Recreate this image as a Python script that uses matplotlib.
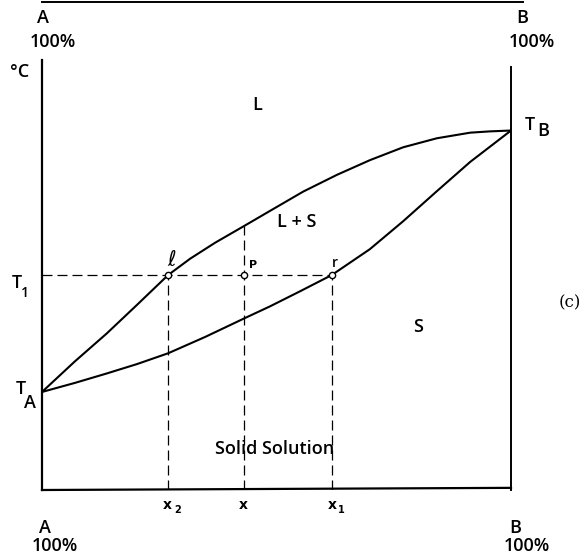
import matplotlib.pyplot as plt
from matplotlib.lines import Line2D

# composition in % B, temperature in arbitrary units (0 = bottom axis)
liq_x = [0, 7.0, 13.8, 20.3, 26.9, 31.6, 36.9, 43.1, 48.6, 55.7, 62.9,
         69.9, 77.0, 84.2, 91.3, 95.5, 100]
liq_t = [22.8, 29.9, 36.4, 43.1, 50.0, 53.8, 57.5, 61.4, 64.9, 69.4, 73.3,
         76.7, 79.7, 81.8, 83.1, 83.4, 83.6]
sol_x = [0, 7.0, 13.8, 20.3, 26.9, 34.8, 43.1, 48.6, 55.0, 61.8, 69.9,
         77.0, 84.2, 91.3, 100]
sol_t = [22.8, 24.9, 27.1, 29.3, 31.8, 35.6, 39.9, 42.7, 46.2, 50.0, 56.0,
         62.5, 69.5, 76.3, 83.6]

T_1 = 50.0
x2, x0, x1 = 26.9, 43.1, 61.8   # compositions of l, P, r
x_top = 61.5                    # top of the dashed line through P

fig = plt.figure(figsize=(5.87, 5.55), dpi=100)
ax = fig.add_axes([42 / 587, 65 / 555, 469 / 587, 430 / 555])
ax.set_xlim(0, 100)
ax.set_ylim(0, 100)
ax.axis('off')

# frame of the diagram
ax.plot([0, 0], [0, 100], color='black', lw=1.6, clip_on=False)
ax.plot([100, 100], [0, 98.4], color='black', lw=1.4, clip_on=False)
ax.plot([0, 100], [0, 0.5], color='black', lw=1.6, clip_on=False)

# liquidus and solidus
ax.plot(liq_x, liq_t, color='black', lw=1.5)
ax.plot(sol_x, sol_t, color='black', lw=1.5)

# construction lines
dash = dict(color='black', lw=0.9, dashes=(8, 4))
ax.plot([0, x1], [T_1, T_1], **dash)
ax.plot([x2, x2], [0, T_1], **dash)
ax.plot([x0, x0], [0, x_top], **dash)
ax.plot([x1, x1], [0, T_1], **dash)
ax.plot([x2, x0, x1], [T_1, T_1, T_1], 'o', ms=4.5, mfc='white',
        mec='black', mew=1.0)

# labels
txt = dict(fontsize=13, ha='center', va='center', clip_on=False,
           family='Open Sans', fontweight='semibold')
ax.text(0.15, 109.8, 'A', **txt)
ax.text(2.3, 104.2, '100%', **txt)
ax.text(102.3, 109.8, 'B', **txt)
ax.text(104.4, 104.2, '100%', **txt)
ax.text(-4.7, 97.2, '°C', **txt)
ax.text(45.8, 89.5, 'L', **txt)
ax.text(54.4, 62.3, 'L + S', **txt)
ax.text(80.2, 37.9, 'S', **txt)
ax.text(49.5, 9.5, 'Solid Solution', **txt)
ax.text(0.6, -8.8, 'A', **txt)
ax.text(2.8, -13.0, '100%', **txt)
ax.text(100.9, -8.8, 'B', **txt)
ax.text(103.4, -13.0, '100%', **txt)

ax.text(104.0, 85.0, 'T', **txt)
ax.text(106.8, 83.5, 'B', **txt)
ax.text(-4.5, 23.5, 'T', **txt)
ax.text(-2.5, 20.3, 'A', **txt)
ax.text(-5.3, 48.1, 'T', **txt)
ax.text(-3.7, 45.8, '1', fontsize=10, ha='center', va='center',
        clip_on=False, family='Open Sans', fontweight='semibold')

ax.text(27.7, 53.5, r'$\ell$', fontsize=15, ha='center', va='center')
ax.text(45.0, 52.3, 'P', fontsize=8, ha='center', va='center',
        fontweight='bold')
ax.text(62.5, 52.8, 'r', fontsize=10, ha='center', va='center',
        family='Open Sans', fontweight='semibold')

small = dict(fontsize=10, ha='center', va='center', clip_on=False,
             fontweight='bold')
ax.text(26.7, -3.4, 'x', **small)
ax.text(29.0, -4.6, '2', fontsize=7, ha='center', va='center',
        clip_on=False, fontweight='bold')
ax.text(42.9, -3.4, 'x', **small)
ax.text(62.0, -3.4, 'x', **small)
ax.text(63.8, -4.6, '1', fontsize=7, ha='center', va='center',
        clip_on=False, fontweight='bold')

ax.text(112.6, 43.5, '(c)', fontsize=12, ha='center', va='center',
        family='DejaVu Serif', clip_on=False)

# leftover rule at the very top of the page
fig.add_artist(Line2D([42 / 587, 523 / 587], [553.5 / 555, 553.5 / 555],
                      color='black', lw=1.4))

fig.savefig('out.png', dpi=100)
